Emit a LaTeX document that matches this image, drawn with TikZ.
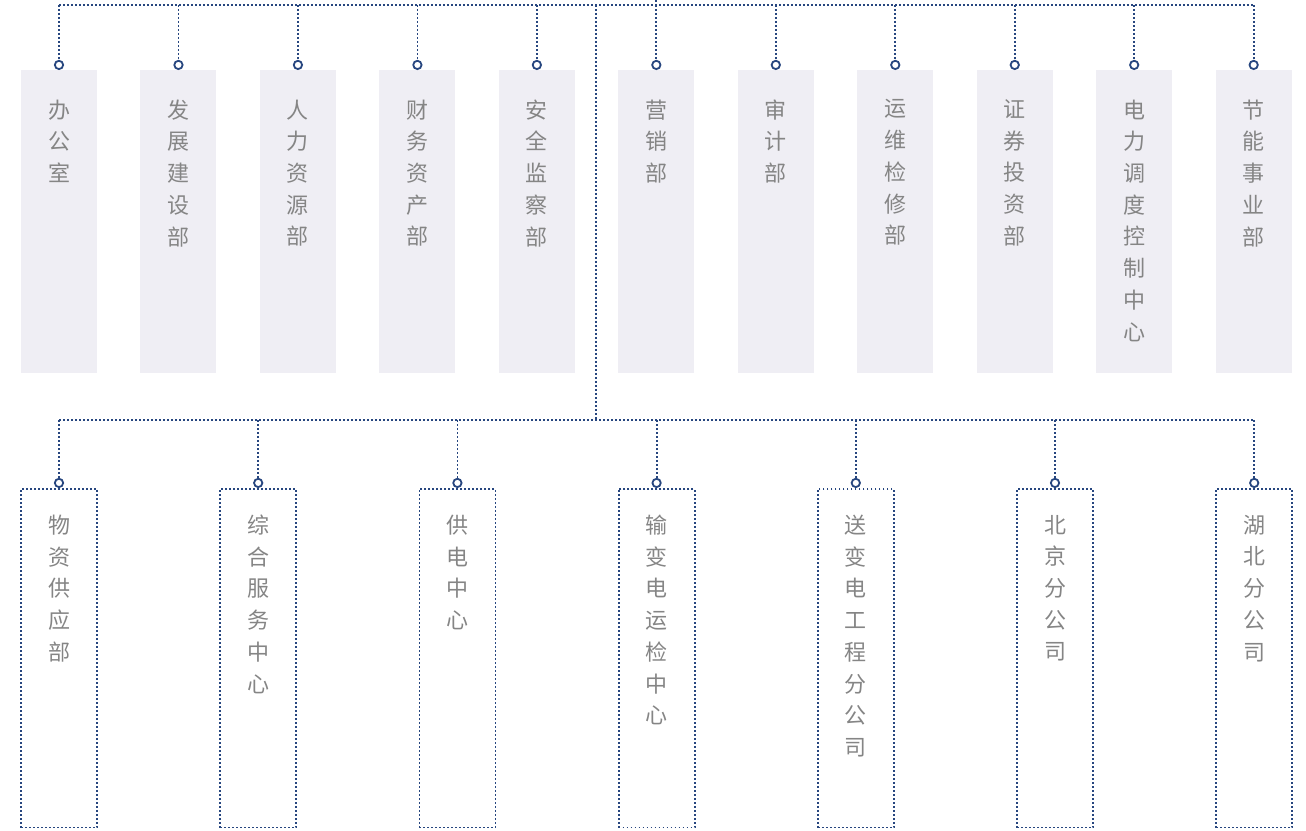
\documentclass[tikz,border=0pt]{standalone}
\usepackage{fontspec}
\setmainfont{Noto Sans CJK SC}
\usepackage{tikz}
\usetikzlibrary{arrows.meta}

\definecolor{linkblue}{HTML}{27467F}
\definecolor{deptgray}{HTML}{EFEEF4}
\definecolor{textgray}{HTML}{858585}

\begin{document}
\begin{tikzpicture}[x=0.75pt, y=-0.75pt,
  link/.style={draw=linkblue, line width=1.35pt, dash pattern=on 1.35pt off 1.65pt},
  ring/.style={-{Circle[open, length=7.6pt, width=7.6pt, fill=white, line width=1.35pt]}},
  dept node/.style={fill=deptgray, minimum width=57pt, minimum height=227pt, inner sep=0pt},
  unit node/.style={link, minimum width=57pt, minimum height=254pt, inner sep=0pt},
  vtext/.style={anchor=north, inner sep=0pt, yshift=-22pt, align=center, text=textgray,
    font=\fontsize{16.5pt}{23.8pt}\selectfont}]
\useasboundingbox (0,0) rectangle (1306,831);

% departments, top row
\node[dept node, anchor=north] at (59,70) (d1) {};
\node[dept node, right of=d1, node distance=89.6pt] (d2) {};
\node[dept node, right of=d2, node distance=89.6pt] (d3) {};
\node[dept node, right of=d3, node distance=89.6pt] (d4) {};
\node[dept node, right of=d4, node distance=89.6pt] (d5) {};
\node[dept node, right of=d5, node distance=89.6pt] (d6) {};
\node[dept node, right of=d6, node distance=89.6pt] (d7) {};
\node[dept node, right of=d7, node distance=89.6pt] (d8) {};
\node[dept node, right of=d8, node distance=89.6pt] (d9) {};
\node[dept node, right of=d9, node distance=89.6pt] (d10) {};
\node[dept node, right of=d10, node distance=89.6pt] (d11) {};

\node[vtext] (n1) at (d1.north)  {办\\公\\室};
\node[vtext] (n2) at (d2.north)  {发\\展\\建\\设\\部};
\node[vtext] (n3) at (d3.north)  {人\\力\\资\\源\\部};
\node[vtext] (n4) at (d4.north)  {财\\务\\资\\产\\部};
\node[vtext] (n5) at (d5.north)  {安\\全\\监\\察\\部};
\node[vtext] (n6) at (d6.north)  {营\\销\\部};
\node[vtext] (n7) at (d7.north)  {审\\计\\部};
\node[vtext] (n8) at (d8.north)  {运\\维\\检\\修\\部};
\node[vtext] (n9) at (d9.north)  {证\\券\\投\\资\\部};
\node[vtext] (n10) at (d10.north) {电\\力\\调\\度\\控\\制\\中\\心};
\node[vtext] (n11) at (d11.north) {节\\能\\事\\业\\部};

% units, bottom row
\node[unit node, anchor=north] at (59,488) (u1) {};
\node[unit node, right of=u1, node distance=149.4pt] (u2) {};
\node[unit node, right of=u2, node distance=149.4pt] (u3) {};
\node[unit node, right of=u3, node distance=149.4pt] (u4) {};
\node[unit node, right of=u4, node distance=149.4pt] (u5) {};
\node[unit node, right of=u5, node distance=149.4pt] (u6) {};
\node[unit node, right of=u6, node distance=149.4pt] (u7) {};

\node[vtext, yshift=2pt] (m1) at (u1.north) {物\\资\\供\\应\\部};
\node[vtext, yshift=2pt] (m2) at (u2.north) {综\\合\\服\\务\\中\\心};
\node[vtext, yshift=2pt] (m3) at (u3.north) {供\\电\\中\\心};
\node[vtext, yshift=2pt] (m4) at (u4.north) {输\\变\\电\\运\\检\\中\\心};
\node[vtext, yshift=2pt] (m5) at (u5.north) {送\\变\\电\\工\\程\\分\\公\\司};
\node[vtext, yshift=2pt] (m6) at (u6.north) {北\\京\\分\\公\\司};
\node[vtext, yshift=2pt] (m7) at (u7.north) {湖\\北\\分\\公\\司};

% buses
\coordinate (topbus) at (0,5);
\coordinate (lowbus) at (0,420);
\coordinate (pagetop) at (0,0);
\coordinate (trunk) at (596,5);

\draw[link] (d1.north |- topbus) -- (d11.north |- topbus);
\draw[link] (u1.north |- lowbus) -- (u7.north |- lowbus);
\draw[link] (d6.north |- pagetop) -- (d6.north |- topbus);
\draw[link] (trunk) -- (trunk |- lowbus);

\foreach \n in {d1,d2,d3,d4,d5,d6,d7,d8,d9,d10,d11}
  \draw[link, ring] (\n.north |- topbus) -- (\n.north);
\foreach \n in {u1,u2,u3,u4,u5,u6,u7}
  \draw[link, ring] (\n.north |- lowbus) -- (\n.north);
\end{tikzpicture}
\end{document}
